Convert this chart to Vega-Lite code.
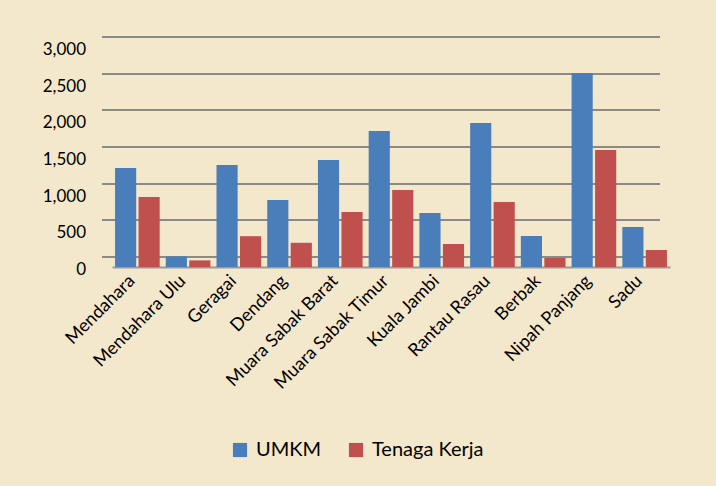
{
  "$schema": "https://vega.github.io/schema/vega-lite/v6.json",
  "autosize": {"type": "none"},
  "width": 558,
  "height": 220,
  "padding": {"left": 112, "top": 47, "right": 46, "bottom": 219},
  "background": "#f3e7cc",
  "data": {
    "values": [
      {"kec": "Mendahara", "seri": "UMKM", "nilai": 1350},
      {"kec": "Mendahara", "seri": "Tenaga Kerja", "nilai": 955},
      {"kec": "Mendahara Ulu", "seri": "UMKM", "nilai": 145},
      {"kec": "Mendahara Ulu", "seri": "Tenaga Kerja", "nilai": 90},
      {"kec": "Geragai", "seri": "UMKM", "nilai": 1390},
      {"kec": "Geragai", "seri": "Tenaga Kerja", "nilai": 420},
      {"kec": "Dendang", "seri": "UMKM", "nilai": 915},
      {"kec": "Dendang", "seri": "Tenaga Kerja", "nilai": 330},
      {"kec": "Muara Sabak Barat", "seri": "UMKM", "nilai": 1460},
      {"kec": "Muara Sabak Barat", "seri": "Tenaga Kerja", "nilai": 750},
      {"kec": "Muara Sabak Timur", "seri": "UMKM", "nilai": 1855},
      {"kec": "Muara Sabak Timur", "seri": "Tenaga Kerja", "nilai": 1050},
      {"kec": "Kuala Jambi", "seri": "UMKM", "nilai": 736},
      {"kec": "Kuala Jambi", "seri": "Tenaga Kerja", "nilai": 314},
      {"kec": "Rantau Rasau", "seri": "UMKM", "nilai": 1965},
      {"kec": "Rantau Rasau", "seri": "Tenaga Kerja", "nilai": 886},
      {"kec": "Berbak", "seri": "UMKM", "nilai": 423},
      {"kec": "Berbak", "seri": "Tenaga Kerja", "nilai": 123},
      {"kec": "Nipah Panjang", "seri": "UMKM", "nilai": 2645},
      {"kec": "Nipah Panjang", "seri": "Tenaga Kerja", "nilai": 1595},
      {"kec": "Sadu", "seri": "UMKM", "nilai": 545},
      {"kec": "Sadu", "seri": "Tenaga Kerja", "nilai": 232}
    ]
  },
  "mark": {"type": "bar", "stroke": null},
  "encoding": {
    "x": {
      "field": "kec",
      "type": "nominal",
      "sort": null,
      "title": null,
      "scale": {"paddingInner": 0.12, "paddingOuter": 0.06},
      "axis": {
        "labelAngle": -45,
        "labelAlign": "right",
        "labelBaseline": "middle",
        "labelFontSize": 18,
        "labelFont": "Lato",
        "labelColor": "#000000",
        "labelPadding": 11,
        "labelOffset": -5,
        "ticks": false,
        "domain": true,
        "domainColor": "#9a9a9a",
        "domainWidth": 2
      }
    },
    "xOffset": {"field": "seri", "type": "nominal", "sort": ["UMKM", "Tenaga Kerja"], "scale": {"paddingInner": 0.1}},
    "y": {
      "field": "nilai",
      "type": "quantitative",
      "title": null,
      "scale": {"domain": [0, 3000]},
      "axis": {
        "values": [0, 500, 1000, 1500, 2000, 2500, 3000],
        "format": ",.0f",
        "labelFontSize": 17,
        "labelFont": "Lato",
        "labelColor": "#000000",
        "labelPadding": 16,
        "labelOffset": 13,
        "translate": -10,
        "ticks": false,
        "domain": false,
        "grid": true,
        "gridColor": "#8c8a85",
        "gridWidth": 2
      }
    },
    "color": {
      "field": "seri",
      "type": "nominal",
      "sort": ["UMKM", "Tenaga Kerja"],
      "title": null,
      "scale": {"domain": ["UMKM", "Tenaga Kerja"], "range": ["#4a7ebb", "#c0504d"]},
      "legend": {
        "orient": "none",
        "legendX": 118,
        "legendY": 393,
        "direction": "horizontal",
        "symbolType": "square",
        "symbolSize": 200,
        "symbolStrokeWidth": 0,
        "labelFontSize": 20,
        "labelFont": "Lato",
        "labelColor": "#000000",
        "columnPadding": 24,
        "labelOffset": 6
      }
    }
  },
  "config": {"view": {"stroke": null}}
}
